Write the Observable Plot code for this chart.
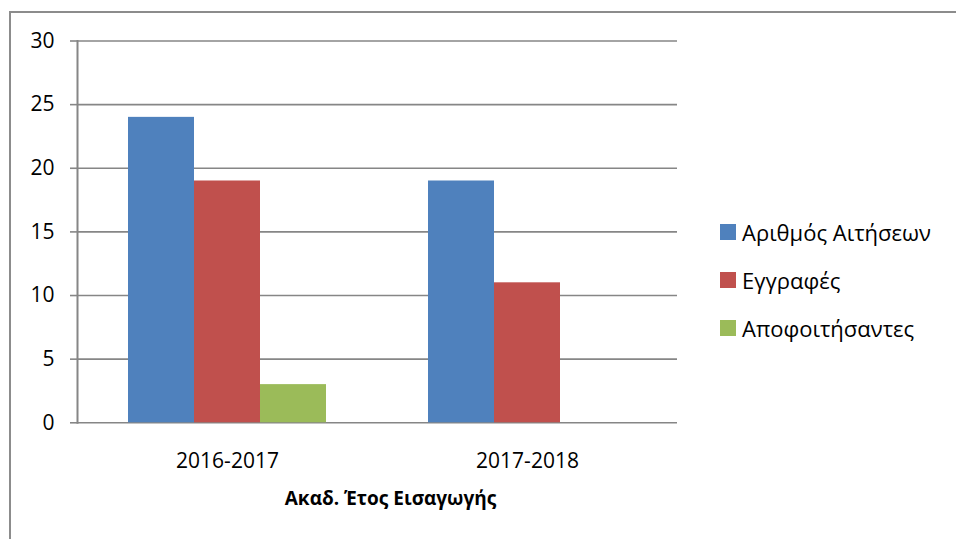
<!DOCTYPE html>
<html>
<head>
<meta charset="utf-8">
<script src="https://cdn.jsdelivr.net/npm/d3@7"></script>
<script src="https://cdn.jsdelivr.net/npm/@observablehq/plot@0.6"></script>
<style>
  body { margin: 0; background: #fff; font-family: "Open Sans", sans-serif; }
  #wrap { position: relative; width: 956px; height: 539px; overflow: hidden; background: #fff; }
  #border { position: absolute; left: 9px; top: 11px; width: 1000px; height: 600px; border: 2px solid #8c8c8c; box-sizing: border-box; }
  #chart { position: absolute; left: 0; top: 0; }
  #legend { position: absolute; left: 720px; top: 208px; font-family: "Open Sans", sans-serif; font-size: 22px; color: #000; }
  .item { display: flex; align-items: center; height: 48px; white-space: nowrap; }
  .sw { width: 16px; height: 16px; margin-right: 6px; flex: none; }
</style>
</head>
<body>
<div id="wrap">
  <div id="border"></div>
  <div id="chart"></div>
  <div id="legend"></div>
</div>
<script>
const years = ["2016-2017", "2017-2018"];
const series = ["Αριθμός Αιτήσεων", "Εγγραφές", "Αποφοιτήσαντες"];
const applications = [24, 19];
const enrollments = [19, 11];
const graduates = [3, 0];
const colors = ["#4F81BD", "#C0504D", "#9BBB59"];
const yTicks = [0, 5, 10, 15, 20, 25, 30];
const xLabel = "Ακαδ. Έτος Εισαγωγής";

const seriesValues = [applications, enrollments, graduates];
const data = [];
years.forEach((yr, i) => {
  series.forEach((s, j) => data.push({year: yr, series: s, value: seriesValues[j][i]}));
});

const font = "'Open Sans', sans-serif";
const chart = Plot.plot({
  width: 956,
  height: 539,
  marginLeft: 77,
  marginRight: 279,
  marginTop: 40.5,
  marginBottom: 116.7,
  style: {fontFamily: font, fontSize: "21px", color: "#000", background: "transparent"},
  fx: {domain: years, padding: 0},
  x: {domain: series, paddingInner: 0, paddingOuter: 0.76, axis: null},
  y: {domain: [0, 30], ticks: yTicks},
  color: {domain: series, range: colors},
  marks: [
    Plot.gridY(yTicks, {stroke: "#868686", strokeOpacity: 1, strokeWidth: 1.6}),
    Plot.barY(data, {fx: "year", x: "series", y: "value", fill: "series"}),
    Plot.frame({anchor: "left", facetAnchor: "left", stroke: "#868686", strokeWidth: 2}),
    Plot.axisY(yTicks, {tickSize: 7, tickPadding: 16, stroke: "#868686", strokeWidth: 1.6, strokeOpacity: 1, label: null, fontSize: 21, fill: "#000"}),
    Plot.axisFx({anchor: "bottom", tickSize: 0, tickPadding: 30, label: xLabel, labelAnchor: "center", labelOffset: 82, fontSize: 21, fill: "#000"})
  ]
});
document.getElementById("chart").appendChild(chart);

// bold axis label, nudged right like the reference
const labelG = d3.select(chart).select('g[aria-label="fx-axis label"]');
labelG.selectAll("text").attr("font-weight", "bold").attr("font-size", 19);
if (!labelG.empty()) {
  const node = labelG.node();
  const wrapG = document.createElementNS("http://www.w3.org/2000/svg", "g");
  wrapG.setAttribute("transform", "translate(13,0)");
  node.parentNode.insertBefore(wrapG, node);
  wrapG.appendChild(node);
}

// legend built from the color scale
const color = chart.scale("color");
const legend = d3.select("#legend");
series.forEach(s => {
  const it = legend.append("div").attr("class", "item");
  it.append("div").attr("class", "sw").style("background", color.apply(s));
  it.append("span").text(s);
});
</script>
</body>
</html>
